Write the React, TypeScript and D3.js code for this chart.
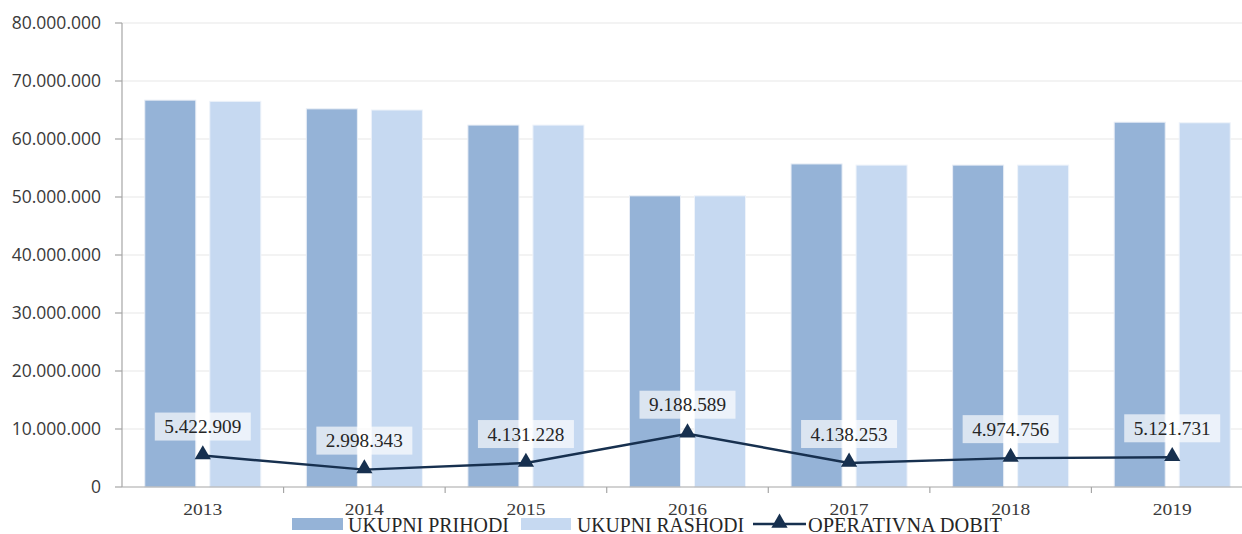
import React from 'react';
import * as d3 from 'd3';

const years = ['2013', '2014', '2015', '2016', '2017', '2018', '2019'];
const prihodi = [66700000, 65200000, 62400000, 50200000, 55700000, 55500000, 62900000];
const rashodi = [66500000, 65000000, 62400000, 50200000, 55500000, 55500000, 62800000];
const dobit = [5422909, 2998343, 4131228, 9188589, 4138253, 4974756, 5121731];
const yTicks = [0, 10000000, 20000000, 30000000, 40000000, 50000000, 60000000, 70000000, 80000000];

const W = 1242;
const H = 534;
const margin = { top: 23, left: 122, bottom: 47 };
const plotRight = 1253;

const fmt = (v: number) => d3.format(',')(v).replace(/,/g, '.');

const App: React.FC = () => {
  const x0 = d3.scaleBand<string>().domain(years).range([margin.left, plotRight]).padding(0);
  const x1 = d3.scaleBand<string>()
    .domain(['p', 'r'])
    .range([0, x0.bandwidth()])
    .paddingInner(0.215)
    .paddingOuter(0.35);
  const y = d3.scaleLinear().domain([0, 80000000]).range([H - margin.bottom, margin.top]);
  const cx = (yr: string) => (x0(yr) || 0) + x0.bandwidth() / 2;

  const line = d3.line<number>()
    .x((_, i) => cx(years[i]))
    .y(d => y(d));

  const tri = d3.symbol().type(d3.symbolTriangle).size(115)();
  const serif = '"Liberation Serif", "DejaVu Serif", serif';
  const sans = '"Open Sans", "Noto Sans", sans-serif';

  return (
    <svg width={W} height={H} style={{ position: 'absolute', left: 0, top: 0, background: '#fff' }}>
      {/* gridlines */}
      {yTicks.slice(1).map(t => (
        <line key={t} x1={margin.left} x2={W} y1={y(t)} y2={y(t)} stroke="#efefef" strokeWidth={1.3} />
      ))}
      {/* bars */}
      {years.map((yr, i) => (
        <g key={yr} transform={`translate(${x0(yr)},0)`}>
          <rect x={x1('p')} y={y(prihodi[i])} width={x1.bandwidth()} height={y(0) - y(prihodi[i])}
            fill="#95b3d7" stroke="#e9eef6" strokeWidth={1} />
          <rect x={x1('r')} y={y(rashodi[i])} width={x1.bandwidth()} height={y(0) - y(rashodi[i])}
            fill="#c6d9f1" stroke="#eef3fa" strokeWidth={1} />
        </g>
      ))}
      {/* axes */}
      <line x1={margin.left} x2={margin.left} y1={margin.top} y2={y(0)} stroke="#a6a6a6" strokeWidth={1.2} />
      <line x1={margin.left} x2={W} y1={y(0)} y2={y(0)} stroke="#a6a6a6" strokeWidth={1.2} />
      {yTicks.map(t => (
        <g key={t}>
          <line x1={margin.left - 7} x2={margin.left} y1={y(t)} y2={y(t)} stroke="#a6a6a6" strokeWidth={1.2} />
          <text x={101} y={y(t)} dy="0.36em" textAnchor="end" fontFamily={sans} fontSize={17.5} fill="#3a3a3a">
            {fmt(t)}
          </text>
        </g>
      ))}
      {years.map(yr => (
        <g key={yr}>
          <line x1={(x0(yr) || 0) + x0.bandwidth()} x2={(x0(yr) || 0) + x0.bandwidth()} y1={y(0)} y2={y(0) + 6}
            stroke="#a6a6a6" strokeWidth={1.2} />
          <text x={cx(yr)} y={515} textAnchor="middle" fontFamily={serif} fontSize={17.5} fill="#3a3a3a"
            textLength={39} lengthAdjust="spacingAndGlyphs">
            {yr}
          </text>
        </g>
      ))}
      {/* line series */}
      <path d={line(dobit) || ''} fill="none" stroke="#17304f" strokeWidth={2.4} />
      {dobit.map((v, i) => (
        <path key={i} d={tri || ''} transform={`translate(${cx(years[i])},${y(v) - 1})`} fill="#17304f" />
      ))}
      {/* data labels */}
      {dobit.map((v, i) => (
        <g key={i} transform={`translate(${cx(years[i])},${y(v) - 29})`}>
          <rect x={-48} y={-14} width={96} height={28} fill="#ffffff" fillOpacity={0.66} />
          <text textAnchor="middle" dy="0.35em" fontFamily={serif} fontSize={19} fill="#262626"
            textLength={77} lengthAdjust="spacingAndGlyphs">
            {fmt(v)}
          </text>
        </g>
      ))}
      {/* legend */}
      <g fontFamily={serif} fontSize={20} fill="#262626">
        <rect x={292} y={518} width={51} height={12} fill="#95b3d7" />
        <text x={348} y={532} textLength={161} lengthAdjust="spacingAndGlyphs">UKUPNI PRIHODI</text>
        <rect x={521} y={518} width={50} height={12} fill="#c6d9f1" />
        <text x={577} y={532} textLength={167} lengthAdjust="spacingAndGlyphs">UKUPNI RASHODI</text>
        <line x1={753} x2={806} y1={524} y2={524} stroke="#17304f" strokeWidth={2.4} />
        <path d={tri || ''} transform="translate(779.5,523)" fill="#17304f" />
        <text x={808} y={532} textLength={194} lengthAdjust="spacingAndGlyphs">OPERATIVNA DOBIT</text>
      </g>
    </svg>
  );
};

export default App;
